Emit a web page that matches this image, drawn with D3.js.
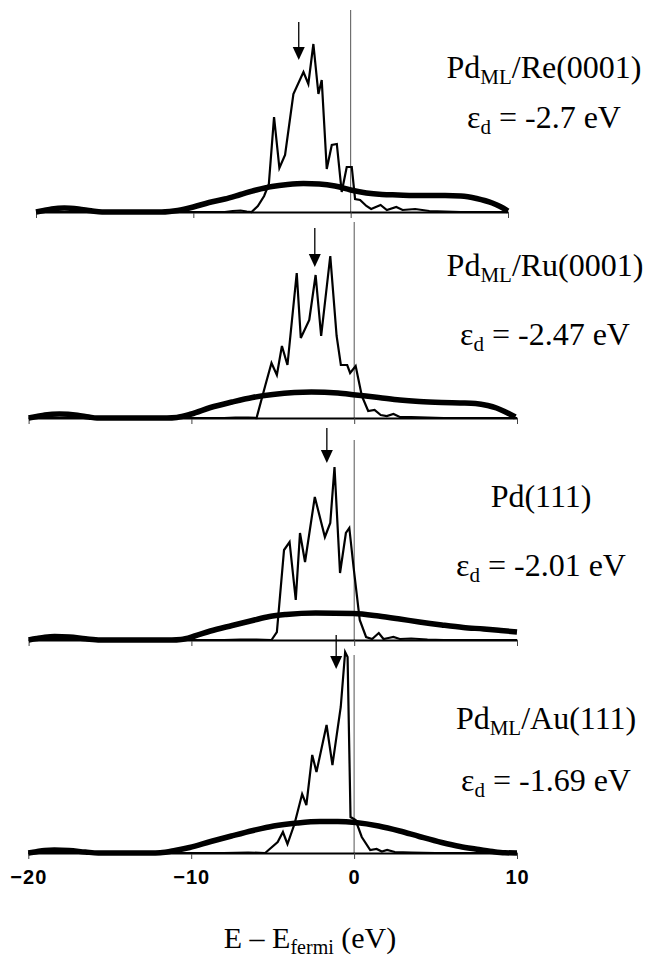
<!DOCTYPE html>
<html lang="en">

<head>
    <meta charset="UTF-8">
    <title>Pd d-band density of states</title>
    <script src="https://d3js.org/d3.v7.min.js"></script>
    <style>
        body { margin: 0; background: #fff; }
        .serif { font-family: "Liberation Serif", "Times New Roman", Times, "DejaVu Serif", serif; }
    </style>
</head>

<body>
    <script>
        var w = 656;
        var h = 958;

        // tick values on the energy axis (eV)
        var xTicks = [-20, -10, 0, 10];

        // panel labels
        var labelHead = ["Pd", "Pd", "Pd(111)", "Pd"];
        var labelSub = ["ML", "ML", "", "ML"];
        var labelTail = ["/Re(0001)", "/Ru(0001)", "", "/Au(111)"];
        var epsD = ["-2.7", "-2.47", "-2.01", "-1.69"];

        // arrow positions (eV)
        var arrowE = [-3.3, -2.42, -1.68, -1.1];

        // Pd d-band DOS (thin line), [E, DOS] in arbitrary units
        var dosRe = [[-20, 0], [-8, 0], [-7.5, 1], [-7, 1.5], [-6.6, 0.5], [-6.3, 0], [-5.9, 6], [-5.5, 16], [-5.2, 28],
            [-4.87, 95], [-4.53, 44], [-4.17, 57], [-3.64, 118], [-3.0, 140], [-2.69, 128], [-2.37, 168], [-2.05, 118],
            [-1.84, 132], [-1.52, 43], [-1.2, 67], [-0.88, 68], [-0.57, 20], [-0.25, 45], [0.07, 45], [0.28, 13],
            [0.6, 12], [1.0, 6], [1.3, 3], [1.9, 7], [2.3, 2], [2.9, 5], [3.3, 2], [4.1, 3], [5, 1], [7, 0], [10, 0]];
        var dosRu = [[-20, 0], [-8, 0], [-7.3, 0.5], [-6.5, 0.5], [-6.0, 0], [-5.47, 32], [-5.08, 55], [-4.75, 43],
            [-4.44, 72], [-4.1, 53], [-3.53, 145], [-3.28, 80], [-2.76, 98], [-2.37, 143], [-2.03, 82], [-1.47, 162],
            [-1.08, 82], [-0.82, 53], [-0.43, 53], [-0.25, 45], [0.09, 52], [0.47, 22], [0.86, 7], [1.25, 8],
            [1.63, 3], [2.0, 2], [2.41, 4], [2.8, 1], [3.5, 1], [4.5, 0.5], [5.5, 0], [10, 0]];
        var dosPd = [[-20, 0], [-8, 0], [-7, 0.5], [-6, 0.5], [-5.08, 0], [-4.75, 8], [-4.31, 90], [-3.97, 98],
            [-3.59, 40], [-3.33, 107], [-3.02, 78], [-2.42, 143], [-1.8, 103], [-1.47, 117], [-1.21, 173],
            [-0.87, 67], [-0.51, 107], [-0.3, 112], [-0.04, 73], [0.34, 20], [0.73, 3], [1.1, 1], [1.51, 7],
            [1.8, 1], [2.1, 2], [2.41, 3], [2.8, 1], [3.5, 1.5], [4.5, 0.5], [5.5, 0], [10, 0]];
        var dosAu = [[-20, 0], [-8, 0], [-6.5, 0.5], [-5.46, 0], [-4.69, 11], [-4.37, 21], [-4.09, 9], [-3.66, 29],
            [-3.19, 59], [-2.93, 48], [-2.57, 98], [-2.31, 81], [-1.69, 128], [-1.33, 88], [-0.82, 146],
            [-0.55, 201], [-0.4, 196], [-0.22, 36], [0.09, 33], [0.47, 16], [0.99, 3], [1.38, 4], [1.7, 1.5],
            [2.03, 3], [2.5, 1], [3.5, 0.5], [5, 0], [10, 0]];

        // broad band (thick line), [E, DOS] in arbitrary units
        var broadRe = [[-20, 0], [-19.5, 1.5], [-19, 3], [-18.2, 4], [-17.3, 3], [-16.5, 1.2], [-15.8, 0], [-12, 0],
            [-11.5, 0.5], [-11, 1.5], [-10, 5], [-9, 9.5], [-8, 13], [-7, 17.5], [-6, 22], [-5, 25.5], [-4, 27.5],
            [-3, 28.5], [-2, 28], [-1, 26], [0, 22], [1, 19], [2, 17.5], [3, 17], [4, 16.5], [5, 16.5], [6, 16.5],
            [7, 16], [8, 13.5], [9, 9], [9.5, 5.5], [10, 1]];
        var broadRu = [[-20, 0], [-19.5, 1.5], [-19, 3], [-18.1, 4], [-17, 2.8], [-16.3, 1], [-15.8, 0], [-11.5, 0],
            [-10.9, 0.5], [-10, 4], [-8.83, 10.5], [-7.5, 16], [-6.25, 20.5], [-5, 23.5], [-3.67, 25.5],
            [-2.63, 26], [-1, 25], [0.09, 23], [1.5, 20.5], [2.8, 18], [4, 16.5], [5.38, 15.5], [6.5, 15],
            [7.45, 14.5], [8.2, 12.5], [8.74, 10], [9.3, 6], [9.9, 1]];
        var broadPd = [[-20, 0], [-19.5, 1.5], [-19, 2.8], [-18.4, 3.5], [-17.5, 3], [-16.5, 1.2], [-15.6, 0],
            [-11.2, 0], [-10.64, 0.5], [-9.8, 4], [-8.83, 9], [-7.5, 14.5], [-6.25, 19.5], [-5.2, 23.5],
            [-4.18, 25.5], [-2.37, 27], [-0.04, 26.5], [1.5, 24], [2.8, 21], [4, 18], [5.38, 15], [6.7, 12.5],
            [7.96, 11], [9, 9.5], [10, 8]];
        var broadAu = [[-20, 0], [-19.5, 1.3], [-19, 2.5], [-18.4, 3], [-17.5, 2.5], [-16.5, 1], [-15.7, 0],
            [-12.5, 0], [-11.9, 0.3], [-11, 2.5], [-10.1, 5.5], [-8.8, 11.5], [-7.53, 17], [-6.2, 22.5],
            [-4.94, 27], [-3.5, 30], [-2.1, 31.5], [-1, 31.5], [0.09, 30.5], [1.5, 27], [2.8, 22], [4, 16.5],
            [5.38, 10.5], [6.5, 6.5], [7.45, 4], [8.5, 1.5], [9.25, 0.3], [10, 0]];

        var dosSeries = [dosRe, dosRu, dosPd, dosAu];
        var broadSeries = [broadRe, broadRu, broadPd, broadAu];

        // layout of the four stacked panels (pixels)
        var panels = [
            { left: 36, right: 508, base: 212, zeroTop: 10, arrowTop: 22, arrowTip: 60, lx: 544, ly1: 78, ly2: 128 },
            { left: 28.6, right: 517, base: 418, zeroTop: 222, arrowTop: 228, arrowTip: 267, lx: 545, ly1: 276, ly2: 345 },
            { left: 28.6, right: 517, base: 640, zeroTop: 440, arrowTop: 428, arrowTip: 463, lx: 541, ly1: 507, ly2: 576 },
            { left: 28.3, right: 517, base: 853, zeroTop: 655, arrowTop: 635, arrowTip: 669, lx: 546, ly1: 729, ly2: 791 }
        ];

        var svg = d3.select("body")
            .append("svg")
            .attr("width", w)
            .attr("height", h);

        svg.append("rect").attr("width", w).attr("height", h).attr("fill", "#fff");

        panels.forEach(function (p, i) {
            var xScale = d3.scaleLinear().domain([-20, 10]).range([p.left, p.right]);
            var yScale = d3.scaleLinear().domain([0, 200]).range([p.base, p.base - 200]);
            var g = svg.append("g");

            // Fermi level line
            g.append("line")
                .attr("x1", xScale(0)).attr("x2", xScale(0))
                .attr("y1", p.zeroTop).attr("y2", p.base)
                .attr("stroke", "#555").attr("stroke-width", 1);

            // axis with ticks, labels only on the bottom panel
            var xAxis = d3.axisBottom(xScale)
                .tickValues(xTicks)
                .tickSize(6)
                .tickSizeOuter(0)
                .tickFormat(i === 3 ? d3.format("d") : "");
            var ax = g.append("g")
                .attr("transform", "translate(0," + p.base + ")")
                .call(xAxis);
            ax.select(".domain").attr("stroke", "#000").attr("stroke-width", 2);
            ax.selectAll(".tick line").attr("stroke", "#444").attr("stroke-width", 1);
            ax.selectAll(".tick text")
                .attr("y", 31)
                .attr("dy", 0)
                .attr("fill", "#000")
                .attr("font-family", "'Liberation Sans', Arial, sans-serif")
                .attr("font-weight", "bold")
                .attr("font-size", "20px")
                .attr("letter-spacing", "1px");

            var line = d3.line()
                .x(function (d) { return xScale(d[0]); })
                .y(function (d) { return yScale(d[1]); });

            // broad band (thick)
            g.append("path")
                .datum(broadSeries[i])
                .attr("d", line.curve(d3.curveMonotoneX))
                .attr("fill", "none")
                .attr("stroke", "#000")
                .attr("stroke-width", 5.5)
                .attr("stroke-linejoin", "round");

            // d-band DOS (thin)
            g.append("path")
                .datum(dosSeries[i])
                .attr("d", line.curve(d3.curveLinear))
                .attr("fill", "none")
                .attr("stroke", "#000")
                .attr("stroke-width", 2.2)
                .attr("stroke-linejoin", "miter");

            // arrow marking the d-band centre
            var ax0 = xScale(arrowE[i]);
            g.append("line")
                .attr("x1", ax0).attr("x2", ax0)
                .attr("y1", p.arrowTop).attr("y2", p.arrowTip - 8)
                .attr("stroke", "#000").attr("stroke-width", 1.3);
            g.append("path")
                .attr("d", "M" + (ax0 - 6) + "," + (p.arrowTip - 13) + "L" + (ax0 + 6) + "," + (p.arrowTip - 13) +
                    "L" + ax0 + "," + p.arrowTip + "Z")
                .attr("fill", "#000");

            // labels
            var t1 = g.append("text")
                .attr("class", "serif")
                .attr("x", p.lx).attr("y", p.ly1)
                .attr("text-anchor", "middle")
                .attr("font-size", "32px");
            t1.append("tspan").text(labelHead[i]);
            if (labelSub[i]) {
                t1.append("tspan").attr("font-size", "21px").attr("dy", 6).text(labelSub[i]);
                t1.append("tspan").attr("dy", -6).text(labelTail[i]);
            }

            var t2 = g.append("text")
                .attr("class", "serif")
                .attr("x", p.lx).attr("y", p.ly2)
                .attr("text-anchor", "middle")
                .attr("font-size", "32px");
            t2.append("tspan").text("\u03b5");
            t2.append("tspan").attr("font-size", "21px").attr("dy", 6).text("d");
            t2.append("tspan").attr("dy", -6).text(" = " + epsD[i] + " eV");
        });

        // x axis title
        var xt = svg.append("text")
            .attr("class", "serif")
            .attr("x", 310).attr("y", 948)
            .attr("text-anchor", "middle")
            .attr("font-size", "30px");
        xt.append("tspan").text("E \u2013 E");
        xt.append("tspan").attr("font-size", "20px").attr("dy", 6).text("fermi");
        xt.append("tspan").attr("dy", -6).text(" (eV)");
    </script>
</body>

</html>
